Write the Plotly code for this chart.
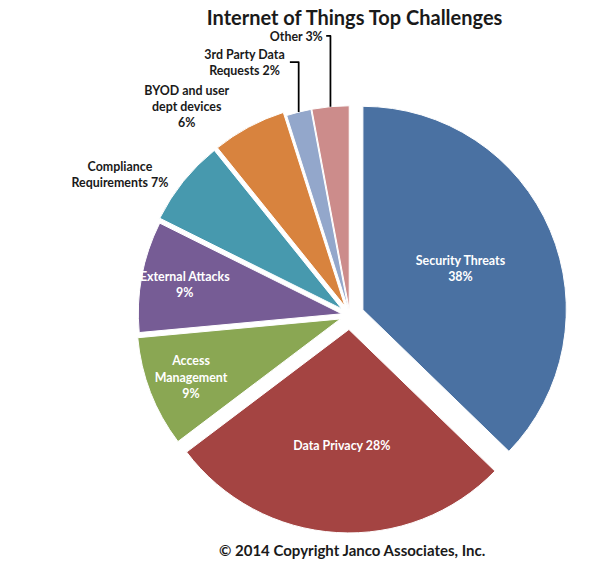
import plotly.graph_objects as go

categories = ["Security Threats", "Data Privacy", "Access Management", "External Attacks",
              "Compliance Requirements", "BYOD and user dept devices", "3rd Party Data Requests", "Other"]
values = [38, 28, 9, 9, 7, 6, 2, 3]
label_text = ["Security Threats<br>38%", "Data Privacy 28%", "Access<br>Management<br>9%",
              "External Attacks<br>9%", "Compliance<br>Requirements 7%",
              "BYOD and user<br>dept devices<br>6%", "3rd Party Data<br>Requests 2%", "Other 3%"]
colors = ["#4A71A2", "#A44442", "#8AA753", "#765C95", "#4799AE", "#D8833E", "#93A7CB", "#CC8C8B"]
positions = ["inside", "inside", "inside", "inside", "outside", "outside", "outside", "outside"]
text_colors = ["white"] * 4 + ["#1a1a1a"] * 4
pulls = [0.07, 0.07, 0.05, 0.04, 0.05, 0.05, 0.03, 0.03]

fig = go.Figure(go.Pie(
    labels=categories,
    values=values,
    text=label_text,
    texttemplate="<b>%{text}</b>",
    textposition=positions,
    textfont=dict(family="Lato", size=14, color=text_colors),
    insidetextorientation="horizontal",
    sort=False,
    direction="clockwise",
    rotation=0,
    pull=pulls,
    automargin=False,
    marker=dict(colors=colors, line=dict(color="white", width=1)),
    domain=dict(x=[0.164, 1.0], y=[0.05, 0.826]),
    showlegend=False,
    hoverinfo="label+value",
))

fig.update_layout(
    width=601, height=561,
    margin=dict(l=0, r=0, t=0, b=0, autoexpand=False),
    paper_bgcolor="white",
    plot_bgcolor="white",
    uniformtext=dict(minsize=12, mode="show"),
    title=dict(text="<b>Internet of Things Top Challenges</b>", x=0.59, xanchor="center",
               y=0.968, yanchor="middle", font=dict(family="Lato", size=20, color="#1a1a1a")),
    annotations=[dict(text="<b>© 2014 Copyright Janco Associates, Inc.</b>", x=0.585, y=0.02,
                      xref="paper", yref="paper", xanchor="center", yanchor="middle",
                      showarrow=False, font=dict(family="Lato", size=15, color="#1a1a1a"))],
)

fig.write_html("out.html")
